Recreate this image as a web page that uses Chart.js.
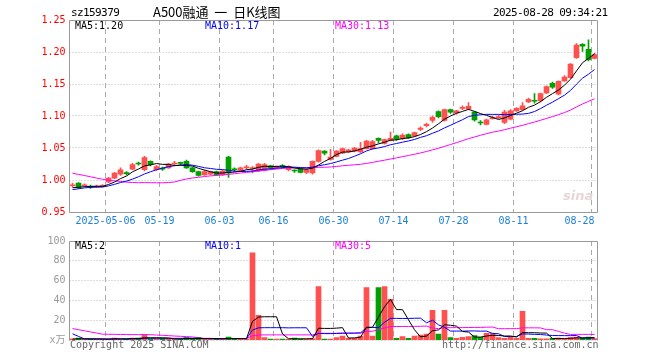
<!DOCTYPE html>
<html lang="zh-CN">
<head>
    <meta charset="UTF-8">
    <title>sz159379 A500融通 日K线图</title>
    <script src="https://cdn.jsdelivr.net/npm/chart.js"></script>
    <style>
        body { margin: 0; background: #fff; }
        #wrap { position: relative; width: 660px; height: 360px; overflow: hidden; }
        canvas { position: absolute; left: 0; }
        #priceChart { top: 0; }
        #volumeChart { top: 230px; }
        .txt { position: absolute; white-space: pre; font-family: "DejaVu Sans Mono", "Noto Sans CJK SC", monospace; font-size: 10px; line-height: 12px; }
        .head { font-size: 11px; letter-spacing: -0.6px; color: #000; }
        .title { font-family: "Noto Sans CJK SC", sans-serif; font-size: 13px; line-height: 14px; color: #000; }
        .foot { color: #666; }
        .ma5 { color: #000; }
        .ma10 { color: #0000ff; }
        .ma30 { color: #ff00ff; }
        .logo { font-family: "DejaVu Sans", sans-serif; font-style: italic; font-weight: bold; font-size: 13px; color: #e6d6d6; }
    </style>
</head>
<body>
<div id="wrap">
    <canvas id="priceChart" width="660" height="232"></canvas>
    <canvas id="volumeChart" width="660" height="130"></canvas>

    <div class="txt head" style="left:71px;top:7px">sz159379</div>
    <div class="txt title" style="left:153px;top:5px">A500融通  一  日K线图</div>
    <div class="txt head" style="left:493px;top:7px">2025-08-28 09:34:21</div>

    <div class="txt ma5" id="p-ma5" style="left:75px;top:20px"></div>
    <div class="txt ma10" id="p-ma10" style="left:205px;top:20px"></div>
    <div class="txt ma30" id="p-ma30" style="left:335px;top:20px"></div>
    <div class="txt logo" style="left:563px;top:190px">sina</div>

    <div class="txt ma5" id="v-ma5" style="left:75px;top:240px"></div>
    <div class="txt ma10" id="v-ma10" style="left:205px;top:240px"></div>
    <div class="txt ma30" id="v-ma30" style="left:335px;top:240px"></div>

    <div class="txt foot" style="left:70px;top:339px">Copyright 2025 SINA.COM</div>
    <div class="txt foot" style="left:442px;top:339px">http://finance.sina.com.cn</div>
</div>

<script>
    const dates = [
        '04-23','04-24','04-25','04-28','04-29','04-30',
        '05-06','05-07','05-08','05-09','05-12','05-13','05-14','05-15','05-16','05-19',
        '05-20','05-21','05-22','05-23','05-26','05-27','05-28','05-29','05-30',
        '06-03','06-04','06-05','06-06','06-09','06-10','06-11','06-12','06-13','06-16',
        '06-17','06-18','06-19','06-20','06-23','06-24','06-25','06-26','06-27','06-30',
        '07-01','07-02','07-03','07-04','07-07','07-08','07-09','07-10','07-11','07-14',
        '07-15','07-16','07-17','07-18','07-21','07-22','07-23','07-24','07-25','07-28',
        '07-29','07-30','07-31','08-01','08-04','08-05','08-06','08-07','08-08','08-11',
        '08-12','08-13','08-14','08-15','08-18','08-19','08-20','08-21','08-22',
        '08-25','08-26','08-27','08-28'
    ];

    const opens = [
        0.991, 0.995, 0.991, 0.990, 0.989, 0.990, 0.997, 1.003, 1.009, 1.011,
        1.017, 1.026, 1.016, 1.029, 1.016, 1.018, 1.019, 1.025, 1.027, 1.029,
        1.019, 1.013, 1.008, 1.009, 1.013, 1.008, 1.036, 1.017, 1.015, 1.019,
        1.018, 1.014, 1.015, 1.022, 1.019, 1.022, 1.016, 1.015, 1.017, 1.012,
        1.011, 1.029, 1.045, 1.032, 1.037, 1.042, 1.044, 1.045, 1.044, 1.049,
        1.049, 1.065, 1.057, 1.062, 1.069, 1.065, 1.071, 1.069, 1.079, 1.085,
        1.093, 1.107, 1.093, 1.110, 1.105, 1.112, 1.111, 1.106, 1.090, 1.087,
        1.096, 1.097, 1.090, 1.095, 1.108, 1.110, 1.122, 1.124, 1.124, 1.136,
        1.151, 1.134, 1.155, 1.160, 1.191, 1.212, 1.204, 1.190
    ];
    const highs = [
        0.995, 0.996, 0.994, 0.992, 0.992, 0.993, 1.004, 1.012, 1.019, 1.013,
        1.026, 1.028, 1.037, 1.030, 1.023, 1.020, 1.026, 1.029, 1.028, 1.031,
        1.020, 1.014, 1.015, 1.014, 1.014, 1.015, 1.037, 1.019, 1.020, 1.023,
        1.021, 1.026, 1.026, 1.023, 1.022, 1.024, 1.022, 1.016, 1.018, 1.017,
        1.030, 1.047, 1.046, 1.048, 1.046, 1.050, 1.048, 1.051, 1.059, 1.062,
        1.062, 1.066, 1.064, 1.075, 1.070, 1.072, 1.072, 1.075, 1.083, 1.089,
        1.100, 1.108, 1.111, 1.111, 1.109, 1.116, 1.121, 1.107, 1.093, 1.095,
        1.100, 1.101, 1.109, 1.110, 1.113, 1.121, 1.128, 1.135, 1.136, 1.147,
        1.153, 1.155, 1.163, 1.182, 1.213, 1.213, 1.219, 1.198
    ];
    const lows = [
        0.989, 0.987, 0.990, 0.987, 0.988, 0.989, 0.996, 1.002, 1.007, 1.008,
        1.016, 1.023, 1.014, 1.022, 1.015, 1.015, 1.018, 1.024, 1.024, 1.018,
        1.012, 1.006, 1.007, 1.008, 1.007, 1.007, 1.004, 1.013, 1.014, 1.017,
        1.011, 1.013, 1.014, 1.017, 1.018, 1.019, 1.014, 1.012, 1.011, 1.010,
        1.009, 1.028, 1.039, 1.031, 1.036, 1.041, 1.043, 1.044, 1.043, 1.048,
        1.048, 1.058, 1.056, 1.061, 1.062, 1.063, 1.065, 1.068, 1.077, 1.083,
        1.090, 1.097, 1.092, 1.104, 1.103, 1.110, 1.110, 1.092, 1.086, 1.086,
        1.095, 1.096, 1.088, 1.094, 1.107, 1.109, 1.121, 1.120, 1.122, 1.135,
        1.143, 1.133, 1.154, 1.159, 1.190, 1.201, 1.186, 1.189
    ];
    const closes = [
        0.992, 0.988, 0.992, 0.989, 0.990, 0.991, 1.003, 1.011, 1.016, 1.010,
        1.024, 1.025, 1.035, 1.024, 1.021, 1.017, 1.025, 1.026, 1.026, 1.019,
        1.013, 1.007, 1.013, 1.013, 1.008, 1.014, 1.011, 1.016, 1.019, 1.020,
        1.019, 1.025, 1.024, 1.018, 1.020, 1.021, 1.021, 1.014, 1.012, 1.016,
        1.029, 1.046, 1.042, 1.036, 1.045, 1.049, 1.047, 1.050, 1.049, 1.061,
        1.060, 1.062, 1.063, 1.065, 1.064, 1.070, 1.066, 1.074, 1.081, 1.087,
        1.098, 1.099, 1.110, 1.106, 1.108, 1.113, 1.115, 1.094, 1.089, 1.094,
        1.097, 1.099, 1.106, 1.108, 1.112, 1.116, 1.126, 1.123, 1.135, 1.146,
        1.145, 1.154, 1.161, 1.181, 1.211, 1.209, 1.188, 1.196
    ];
    // volume in 万
    const volumes = [
        1.2, 2, 0.8, 0.8, 0.8, 0.8, 1, 2, 1, 0.8,
        2, 2, 5.5, 1, 1, 1.5, 1, 1, 1, 2.5,
        1, 2.5, 1, 1, 1, 1, 3, 1, 1, 1,
        88, 25, 2.5, 1, 1, 1, 1, 2, 1, 1,
        1.5, 54, 1, 1, 2.4, 4, 1.7, 1.7, 4, 53,
        4, 53, 54, 41, 1.7, 3.4, 1.7, 4, 5, 6,
        30, 6, 30, 2.4, 1.7, 2.7, 3.4, 4.4, 2.7, 6.7,
        6.7, 2.4, 1.7, 2.7, 1.7, 29, 1.7, 1.7, 1.2, 1.2,
        1.8, 2, 1.2, 2.5, 3, 2, 3, 1.5
    ];

    // sessions before the window (not drawn), estimated so the MA lines start where the picture has them
    const priorCloses = [
        1.040, 1.045, 1.048, 1.050, 1.047, 1.045, 1.043, 1.044, 1.042, 1.042,
        1.035, 1.030, 1.028, 1.025, 1.020, 1.010, 1.001, 0.950, 0.955, 0.965,
        0.975, 0.978, 0.982, 0.985, 0.990, 0.985, 0.987, 0.988, 0.988
    ];
    const priorVolumes = [
        36, 34, 35, 33, 37, 4, 3, 5, 4, 3,
        4, 3, 4, 12, 10, 11, 12, 10, 11, 12,
        28, 26, 1.5, 1, 1.2, 1, 0.8, 1, 1
    ];

    const tickDates = ['05-06', '05-19', '06-03', '06-16', '06-30', '07-14', '07-28', '08-11', '08-28'];
    const tickTexts = ['2025-05-06', '05-19', '06-03', '06-16', '06-30', '07-14', '07-28', '08-11', '08-28    '];

    const UP = '#ff5050';
    const DOWN = '#00a000';

    function movingAvg(prior, series, n) {
        const all = prior.concat(series);
        return series.map((_, i) => {
            const end = prior.length + i + 1;
            return all.slice(end - n, end).reduce((a, b) => a + b, 0) / n;
        });
    }

    const colors = closes.map((c, i) => c >= opens[i] ? UP : DOWN);
    const ma5 = movingAvg(priorCloses, closes, 5);
    const ma10 = movingAvg(priorCloses, closes, 10);
    const ma30 = movingAvg(priorCloses, closes, 30);
    const vma5 = movingAvg(priorVolumes, volumes, 5);
    const vma10 = movingAvg(priorVolumes, volumes, 10);
    const vma30 = movingAvg(priorVolumes, volumes, 30);

    const last = a => a[a.length - 1];
    document.getElementById('p-ma5').textContent = 'MA5:' + last(ma5).toFixed(2);
    document.getElementById('p-ma10').textContent = 'MA10:' + last(ma10).toFixed(2);
    document.getElementById('p-ma30').textContent = 'MA30:' + last(ma30).toFixed(2);
    document.getElementById('v-ma5').textContent = 'MA5:' + Math.floor(last(vma5));
    document.getElementById('v-ma10').textContent = 'MA10:' + Math.floor(last(vma10));
    document.getElementById('v-ma30').textContent = 'MA30:' + Math.floor(last(vma30));

    Chart.defaults.font.family = "'DejaVu Sans Mono', 'Noto Sans CJK SC', monospace";
    Chart.defaults.font.size = 10;

    // grid (dotted rows, dashed date columns) under the data, gray frame over it
    const frame = {
        id: 'frame',
        beforeDatasetsDraw(chart) {
            const a = chart.chartArea;
            const ctx = chart.ctx;
            const x = chart.scales.x;
            const y = chart.scales.y;
            const half = (x.getPixelForValue(1) - x.getPixelForValue(0)) / 2;
            ctx.save();
            ctx.lineWidth = 1;
            ctx.strokeStyle = '#bbbbbb';
            ctx.setLineDash([1, 2]);
            y.ticks.forEach(t => {
                const py = Math.floor(y.getPixelForValue(t.value)) + 0.5;
                ctx.beginPath();
                ctx.moveTo(a.left, py);
                ctx.lineTo(a.right, py);
                ctx.stroke();
            });
            ctx.strokeStyle = '#aaaaaa';
            ctx.setLineDash([5, 4]);
            dates.forEach((d, i) => {
                if (!tickDates.includes(d)) return;
                const px = Math.floor(x.getPixelForValue(i) - half) + 0.5;
                ctx.beginPath();
                ctx.moveTo(px, a.top);
                ctx.lineTo(px, a.bottom);
                ctx.stroke();
            });
            ctx.restore();
        },
        afterDraw(chart, args, opts) {
            const a = chart.chartArea;
            const ctx = chart.ctx;
            const top = Math.floor(a.top) + 0.5;
            const bottom = Math.floor(a.bottom) + 0.5;
            ctx.save();
            ctx.strokeStyle = '#999';
            ctx.lineWidth = 1;
            ctx.beginPath();
            ctx.moveTo(a.left, bottom);
            ctx.lineTo(a.left, top);
            ctx.lineTo(a.right, top);
            ctx.lineTo(a.right, bottom);
            if (opts.bottom) ctx.lineTo(a.left, bottom);
            ctx.stroke();
            ctx.restore();
        }
    };

    function xScale(showLabels) {
        return {
            type: 'category',
            offset: true,
            grid: { display: false, drawTicks: false },
            border: { display: false },
            ticks: {
                display: showLabels,
                autoSkip: false,
                maxRotation: 0,
                minRotation: 0,
                padding: 3,
                labelOffset: -3,
                color: '#1c7fd9',
                callback: (v, i) => {
                    const k = tickDates.indexOf(dates[i]);
                    return k < 0 ? '' : tickTexts[k];
                }
            },
            afterFit: s => { s.height = 20; }
        };
    }

    function yScale(min, max, step, color, label) {
        return {
            min: min,
            max: max,
            grid: { display: false, drawTicks: false },
            border: { display: false },
            ticks: { stepSize: step, padding: 4, color: color, callback: label },
            afterFit: s => { s.width = 69.5; }
        };
    }

    function maLine(data, color) {
        return { type: 'line', data: data, borderColor: color, borderWidth: 1, pointRadius: 0, tension: 0, order: 0 };
    }

    function chartOptions(padTop, yOpts, closedFrame) {
        return {
            responsive: false,
            devicePixelRatio: 1,
            animation: false,
            events: [],
            layout: { padding: { top: padTop, right: 62.5, left: 0, bottom: 0 } },
            scales: { x: xScale(padTop === 20), y: yOpts },
            plugins: { legend: { display: false }, tooltip: { enabled: false }, frame: { bottom: closedFrame } }
        };
    }

    new Chart(document.getElementById('priceChart'), {
        type: 'bar',
        data: {
            labels: dates,
            datasets: [
                maLine(ma5, '#000000'),
                maLine(ma10, '#0000ff'),
                maLine(ma30, '#ff00ff'),
                {
                    data: opens.map((o, i) => [Math.min(o, closes[i]), Math.max(o, closes[i])]),
                    backgroundColor: colors,
                    barThickness: 5,
                    minBarLength: 1,
                    grouped: false,
                    borderWidth: 0,
                    order: 1
                },
                {
                    data: lows.map((l, i) => [l, highs[i]]),
                    backgroundColor: colors,
                    barThickness: 1,
                    grouped: false,
                    borderWidth: 0,
                    order: 2
                }
            ]
        },
        options: chartOptions(20, yScale(0.95, 1.25, 0.05, '#ff0000', v => v.toFixed(2)), true),
        plugins: [frame]
    });

    new Chart(document.getElementById('volumeChart'), {
        type: 'bar',
        data: {
            labels: dates,
            datasets: [
                maLine(vma5, '#000000'),
                maLine(vma10, '#0000ff'),
                maLine(vma30, '#ff00ff'),
                {
                    data: volumes,
                    backgroundColor: colors,
                    barThickness: 5,
                    minBarLength: 1,
                    grouped: false,
                    borderWidth: 0,
                    order: 1
                }
            ]
        },
        options: chartOptions(11, yScale(0, 100, 20, '#999999', v => v === 0 ? 'x万' : String(v)), false),
        plugins: [frame]
    });
</script>
</body>
</html>
